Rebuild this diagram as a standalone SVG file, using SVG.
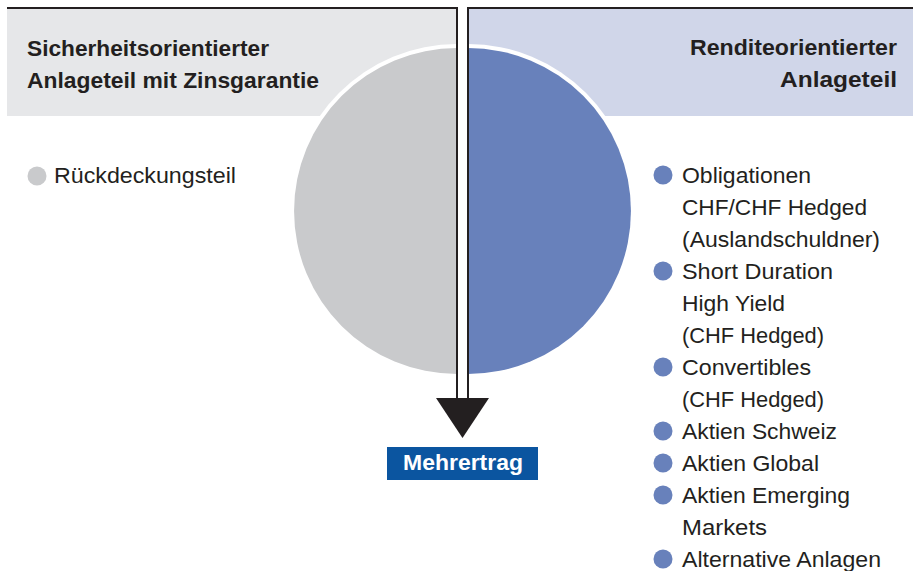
<svg xmlns="http://www.w3.org/2000/svg" width="920" height="571" viewBox="0 0 920 571">
<style>
.hdr{font-family:"Liberation Sans",Arial,sans-serif;font-weight:bold;font-size:22.5px;fill:#231f20}
.lbl{font-family:"Liberation Sans",Arial,sans-serif;font-size:22.5px;fill:#231f20}
.bl{fill:#6881bb}
.edge{stroke:#231f20;stroke-width:2;fill:none}
</style>
<rect width="920" height="571" fill="#fff"/>
<g id="panel-left">
<rect x="7" y="8" width="450" height="108" fill="#e6e7e9"/>
<text class="hdr" x="27" y="56" textLength="242" lengthAdjust="spacingAndGlyphs">Sicherheitsorientierter</text>
<text class="hdr" x="27" y="88" textLength="292" lengthAdjust="spacingAndGlyphs">Anlageteil mit Zinsgarantie</text>
</g>
<g id="panel-right">
<rect x="468" y="8" width="445" height="108" fill="#d0d6e9"/>
<text class="hdr" x="690" y="55" textLength="207" lengthAdjust="spacingAndGlyphs">Renditeorientierter</text>
<text class="hdr" x="780" y="87" textLength="117" lengthAdjust="spacingAndGlyphs">Anlageteil</text>
</g>
<g id="circle">
<path d="M457,44 A167,167 0 0 0 457,378 Z" fill="#fff"/>
<path d="M468,44 A167,167 0 0 1 468,378 Z" fill="#fff"/>
<path d="M457,48 A163,163 0 0 0 457,374 Z" fill="#c9cacc"/>
<path d="M468,48 A163,163 0 0 1 468,374 Z" fill="#6881bb"/>
</g>
<g id="connectors">
<line class="edge" x1="7" y1="8" x2="457" y2="8"/>
<line class="edge" x1="468" y1="8" x2="913" y2="8"/>
<line class="edge" x1="457" y1="7" x2="457" y2="399"/>
<line class="edge" x1="468" y1="7" x2="468" y2="399"/>
<polygon points="436,398 489,398 462.5,438" fill="#231f20"/>
</g>
<g id="mehrertrag">
<rect x="387" y="447" width="151" height="33" fill="#0b55a0"/>
<text x="403" y="470" textLength="120" lengthAdjust="spacingAndGlyphs" style="font-family:'Liberation Sans',Arial,sans-serif;font-weight:bold;font-size:22px;fill:#fff">Mehrertrag</text>
</g>
<g id="list-left">
<circle cx="37" cy="176" r="9.5" fill="#c9cacc"/>
<text class="lbl" x="54" y="183" textLength="182" lengthAdjust="spacingAndGlyphs">Rückdeckungsteil</text>
</g>
<g id="list-right">
<circle class="bl" cx="663" cy="175" r="9.5"/>
<circle class="bl" cx="663" cy="271" r="9.5"/>
<circle class="bl" cx="663" cy="367" r="9.5"/>
<circle class="bl" cx="663" cy="431" r="9.5"/>
<circle class="bl" cx="663" cy="463" r="9.5"/>
<circle class="bl" cx="663" cy="495" r="9.5"/>
<circle class="bl" cx="663" cy="559" r="9.5"/>
<text class="lbl" x="682" y="183" textLength="129" lengthAdjust="spacingAndGlyphs">Obligationen</text>
<text class="lbl" x="682" y="215" textLength="185" lengthAdjust="spacingAndGlyphs">CHF/CHF Hedged</text>
<text class="lbl" x="682" y="247" textLength="198" lengthAdjust="spacingAndGlyphs">(Auslandschuldner)</text>
<text class="lbl" x="682" y="279" textLength="151" lengthAdjust="spacingAndGlyphs">Short Duration</text>
<text class="lbl" x="682" y="311" textLength="103" lengthAdjust="spacingAndGlyphs">High Yield</text>
<text class="lbl" x="682" y="343" textLength="142" lengthAdjust="spacingAndGlyphs">(CHF Hedged)</text>
<text class="lbl" x="682" y="375" textLength="129" lengthAdjust="spacingAndGlyphs">Convertibles</text>
<text class="lbl" x="682" y="407" textLength="142" lengthAdjust="spacingAndGlyphs">(CHF Hedged)</text>
<text class="lbl" x="682" y="439" textLength="155" lengthAdjust="spacingAndGlyphs">Aktien Schweiz</text>
<text class="lbl" x="682" y="471" textLength="137" lengthAdjust="spacingAndGlyphs">Aktien Global</text>
<text class="lbl" x="682" y="503" textLength="168" lengthAdjust="spacingAndGlyphs">Aktien Emerging</text>
<text class="lbl" x="682" y="535" textLength="85" lengthAdjust="spacingAndGlyphs">Markets</text>
<text class="lbl" x="682" y="567" textLength="199" lengthAdjust="spacingAndGlyphs">Alternative Anlagen</text>
</g>
</svg>
